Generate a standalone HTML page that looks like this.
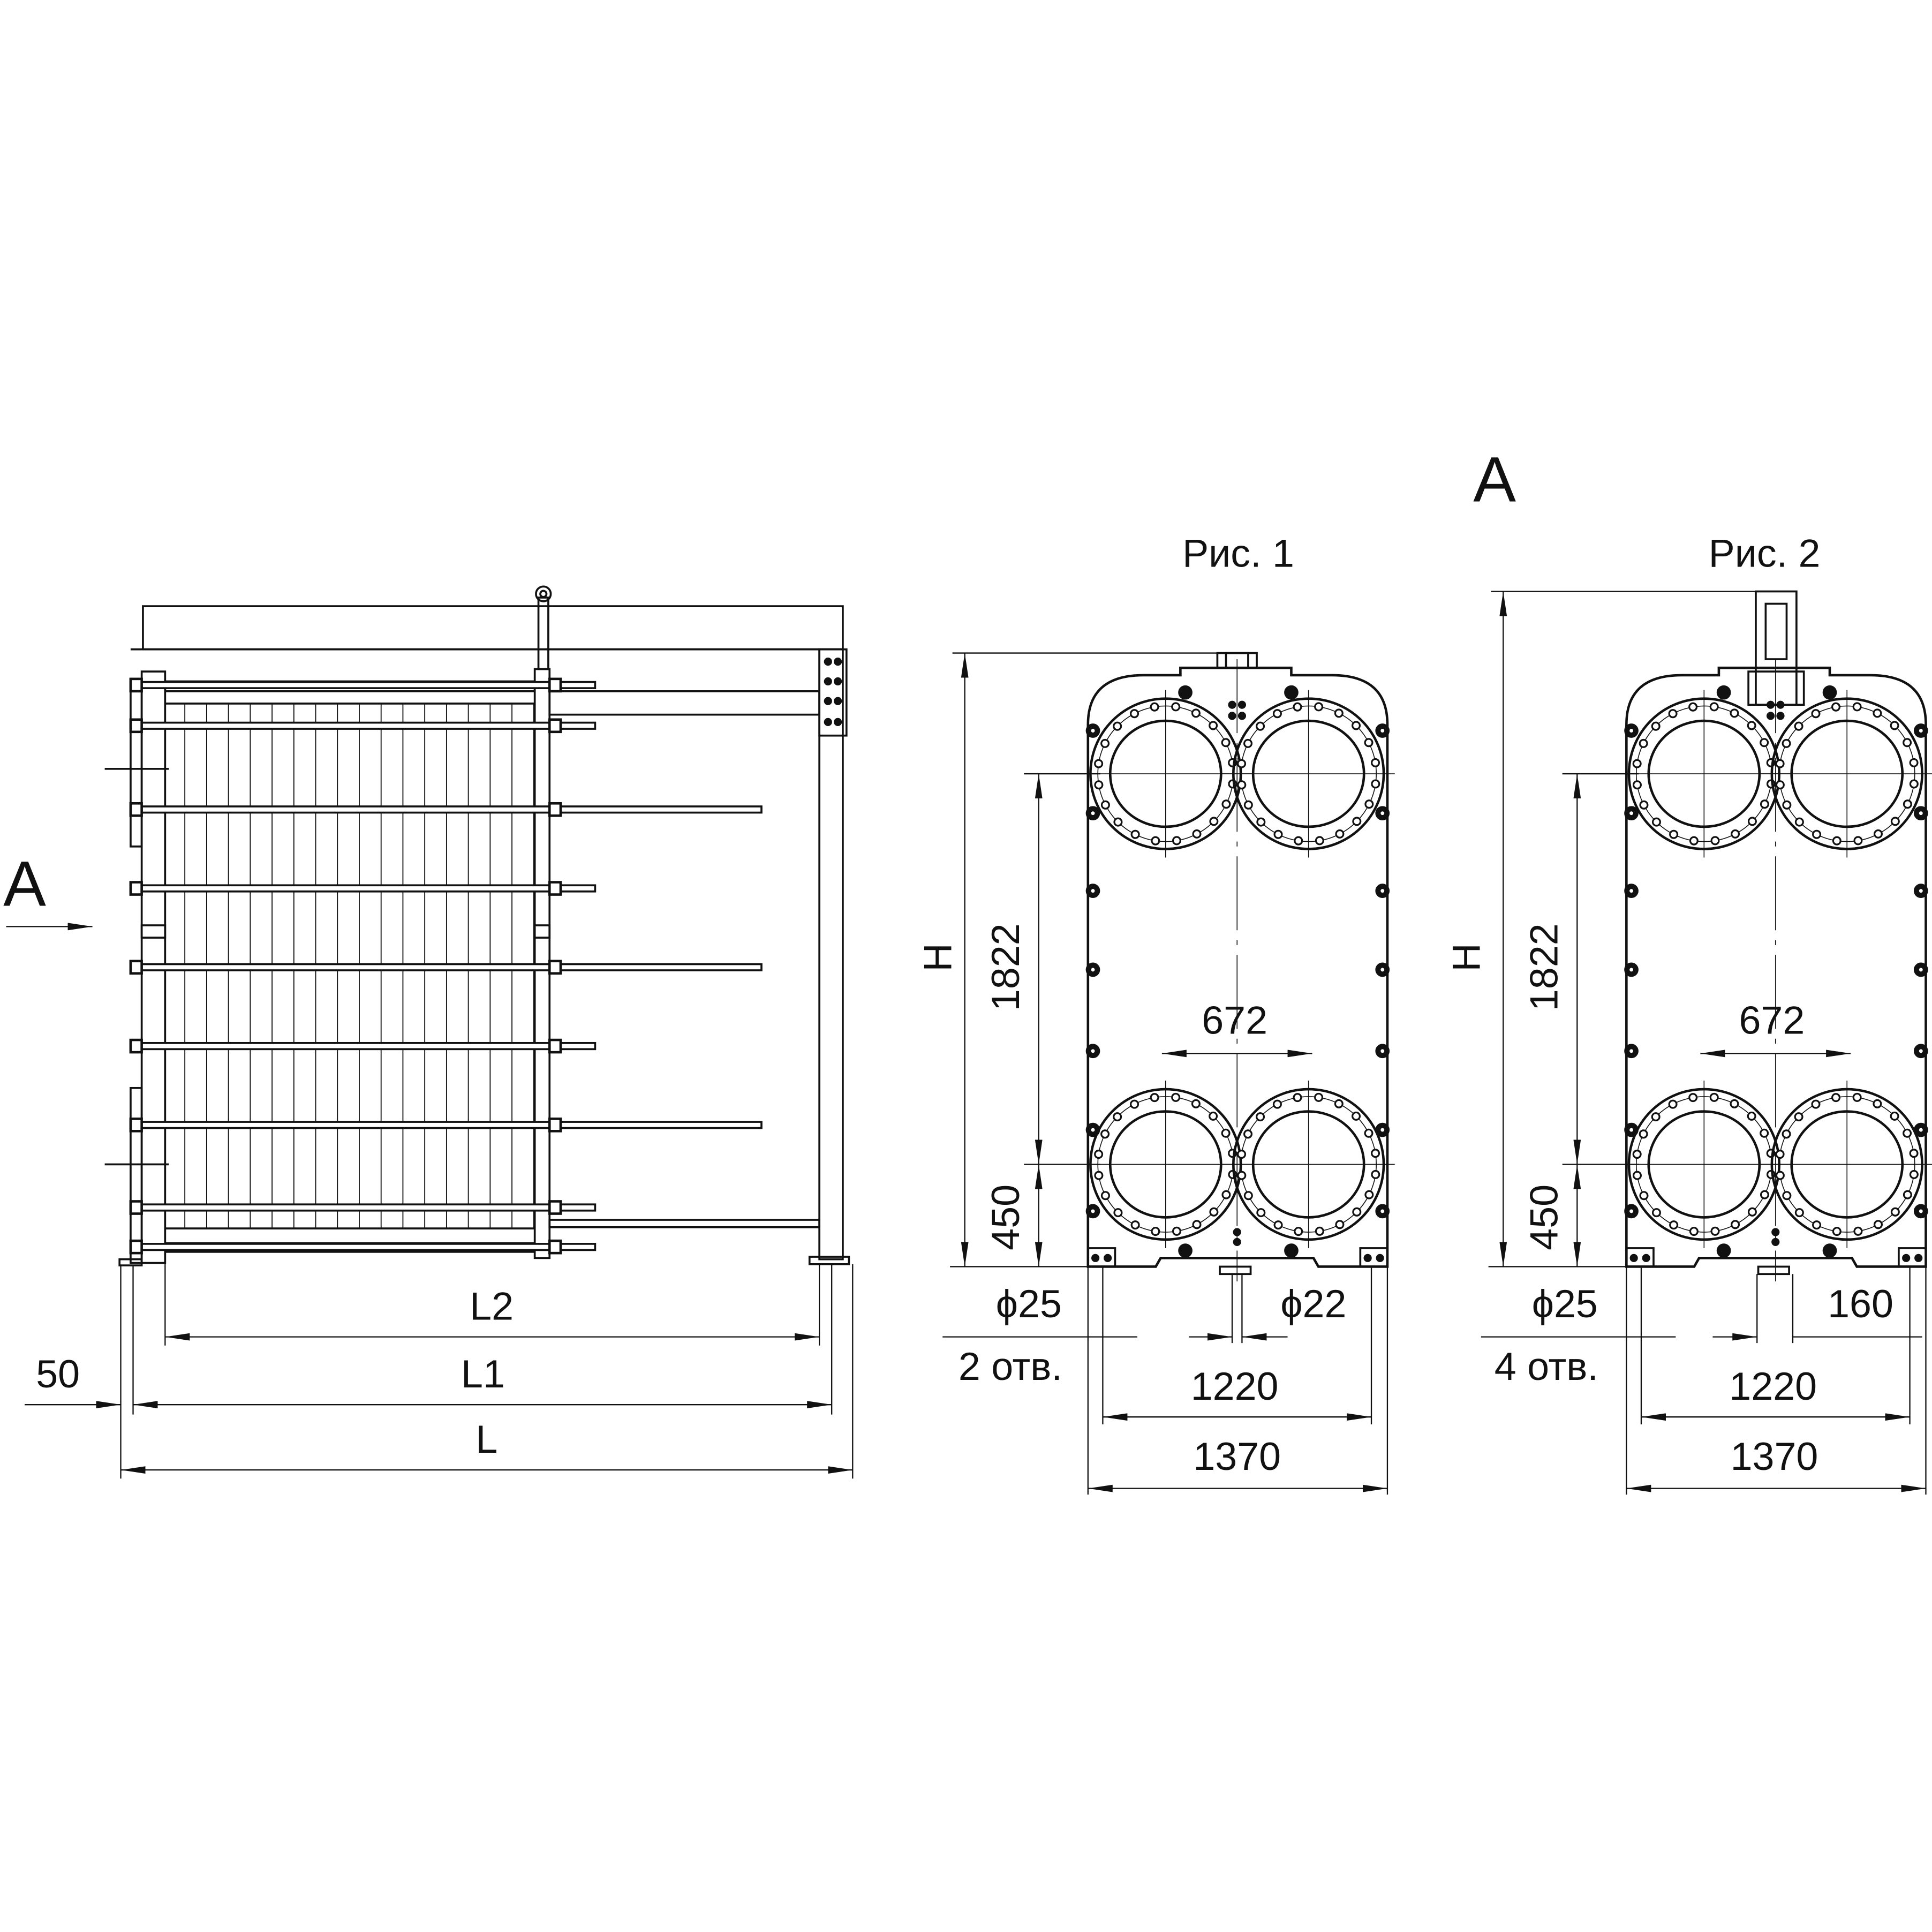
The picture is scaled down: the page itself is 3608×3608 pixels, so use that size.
<!DOCTYPE html>
<html><head><meta charset="utf-8">
<style>
html,body{margin:0;padding:0;background:#fff}
svg{display:block}
text{font-family:"Liberation Sans Narrow","Liberation Sans",sans-serif;fill:#111}
</style></head>
<body>
<svg id="s" width="3608" height="3608" viewBox="0 0 1568 1568" xmlns="http://www.w3.org/2000/svg">
<defs>
<marker id="ar" viewBox="0 0 20 6" refX="20" refY="3" markerWidth="20" markerHeight="6" markerUnits="userSpaceOnUse" orient="auto-start-reverse">
<path d="M0,0 L20,3 L0,6 z" fill="#111"/></marker>
</defs>
<g id="g" fill="none" stroke="#111" stroke-width="1.6">
<!-- LEFT VIEW -->
<rect x="116" y="492" width="568" height="35"/>
<line x1="106" y1="527" x2="684" y2="527"/>
<rect x="665" y="527" width="19" height="495"/>
<rect x="665" y="527" width="22" height="70"/>
<rect x="657" y="1020" width="32" height="6"/>
<rect x="115" y="545" width="19" height="480"/>
<rect x="106" y="553" width="9" height="134"/>
<rect x="106" y="883" width="9" height="142"/>
<rect x="97" y="1022" width="18" height="5"/>
<rect x="434" y="543" width="12" height="478"/>
<rect x="437" y="485" width="8" height="58"/>
<circle cx="441" cy="482" r="6"/>
<circle cx="441" cy="482" r="2.5"/>
<rect x="134" y="553" width="300" height="8"/>
<rect x="134" y="1009" width="300" height="7"/>
<line x1="134" y1="571" x2="434" y2="571"/>
<line x1="134" y1="997" x2="434" y2="997"/>
<rect x="446" y="561" width="219" height="19"/>
<rect x="446" y="990" width="219" height="6"/>
<rect x="115" y="751" width="19" height="10"/>
<rect x="434" y="751" width="12" height="10"/>
<line x1="85" y1="624" x2="137" y2="624"/>
<line x1="85" y1="945" x2="137" y2="945"/>
<!-- dims left -->
<g stroke-width="1">
<line x1="98" y1="1027" x2="98" y2="1200"/>
<line x1="108" y1="1027" x2="108" y2="1148"/>
<line x1="134" y1="1025" x2="134" y2="1092"/>
<line x1="665" y1="1026" x2="665" y2="1092"/>
<line x1="675" y1="1026" x2="675" y2="1148"/>
<line x1="692" y1="1026" x2="692" y2="1200"/>
<line x1="134" y1="1085" x2="665" y2="1085" marker-start="url(#ar)" marker-end="url(#ar)"/>
<line x1="108" y1="1140" x2="675" y2="1140" marker-start="url(#ar)" marker-end="url(#ar)"/>
<line x1="98" y1="1193" x2="692" y2="1193" marker-start="url(#ar)" marker-end="url(#ar)"/>
<line x1="20" y1="1140" x2="98" y2="1140" marker-end="url(#ar)"/>
<line x1="5" y1="752" x2="75" y2="752" marker-end="url(#ar)"/>
</g>
</g>
<g id="v1"></g>
<g id="v2"></g>
<!-- texts -->
<g font-size="32" text-anchor="middle">
<text x="20" y="735" font-size="52">A</text>
<text x="1213" y="407" font-size="52">A</text>
<text x="399" y="1071">L2</text>
<text x="392" y="1126">L1</text>
<text x="47" y="1126">50</text>
<text x="395" y="1179">L</text>
<text x="1005" y="460">Рис. 1</text>
<text x="1432" y="460">Рис. 2</text>
<text x="1002" y="839">672</text>
<text x="1438" y="839">672</text>
<text transform="translate(772,777) rotate(-90)">H</text>
<text transform="translate(1201,777) rotate(-90)">H</text>
<text transform="translate(827,785) rotate(-90)">1822</text>
<text transform="translate(1264,785) rotate(-90)">1822</text>
<text transform="translate(827,988) rotate(-90)">450</text>
<text transform="translate(1264,988) rotate(-90)">450</text>
<text x="835" y="1069">ϕ25</text>
<text x="1066" y="1069">ϕ22</text>
<text x="1270" y="1069">ϕ25</text>
<text x="1510" y="1069">160</text>
<text x="820" y="1120">2 отв.</text>
<text x="1255" y="1120">4 отв.</text>
<text x="1002" y="1136">1220</text>
<text x="1439" y="1136">1220</text>
<text x="1004" y="1193">1370</text>
<text x="1440" y="1193">1370</text>
</g>
</svg>
<script>
var NS="http://www.w3.org/2000/svg";
function el(p,t,a){var e=document.createElementNS(NS,t);for(var k in a)e.setAttribute(k,a[k]);p.appendChild(e);return e;}
var g=document.getElementById("g");
// plates
for(var x=150;x<434;x+=17.7){el(g,"line",{x1:x,y1:571,x2:x,y2:997,"stroke-width":0.8});}
// tie bolts
[[556,483],[589,483],[657,618],[721,483],[785,618],[849,483],[913,618],[980,483],[1012,483]].forEach(function(b){
 el(g,"rect",{x:110,y:b[0]-2.5,width:b[1]-110,height:5,fill:"#fff"});
 el(g,"rect",{x:106,y:b[0]-5,width:9,height:10,fill:"#fff","stroke-width":2});
 el(g,"rect",{x:446,y:b[0]-5,width:9,height:10,fill:"#fff","stroke-width":2});
});
// bolt plate holes
[[672,537],[680,537],[672,553],[680,553],[672,569],[680,569],[672,586],[680,586]].forEach(function(p){el(g,"circle",{cx:p[0],cy:p[1],r:2.5,fill:"#111"});});
function view(id,dx,type){
 var v=document.getElementById(id);
 var G=el(v,"g",{fill:"none",stroke:"#111","stroke-width":1.6});
 var L=883+dx,R=1126+dx,T=548,B=1028;
 el(G,"path",{d:"M"+L+","+B+" L"+L+","+(T+40)+" Q"+L+","+T+" "+(L+45)+","+T+" L"+(958+dx)+","+T+" L"+(958+dx)+","+(T-6)+" L"+(1048+dx)+","+(T-6)+" L"+(1048+dx)+","+T+" L"+(R-45)+","+T+" Q"+R+","+T+" "+R+","+(T+40)+" L"+R+","+B+" L"+(1070+dx)+","+B+" L"+(1066+dx)+","+(B-7)+" L"+(942+dx)+","+(B-7)+" L"+(938+dx)+","+B+" Z","stroke-width":2});
 // top tab
 if(type==1){el(G,"rect",{x:988+dx,y:530,width:32,height:12});el(G,"rect",{x:995+dx,y:530,width:18,height:12});}
 else{el(G,"rect",{x:1425+0,y:480,width:33,height:92});el(G,"rect",{x:1433,y:490,width:17,height:45});el(G,"rect",{x:1419,y:545,width:45,height:27});}
 // bottom tab
 el(G,"rect",{x:990+dx,y:B,width:25,height:6});
 // feet
 [[L,0],[R-22,0]].forEach(function(f){el(G,"rect",{x:f[0],y:B-15,width:22,height:15});el(G,"circle",{cx:f[0]+6,cy:B-7,r:2.5,fill:"#111"});el(G,"circle",{cx:f[0]+16,cy:B-7,r:2.5,fill:"#111"});});
 // ports
 [[946,628],[1062,628],[946,945],[1062,945]].forEach(function(c){
  var cx=c[0]+dx,cy=c[1];
  el(G,"circle",{cx:cx,cy:cy,r:61,"stroke-width":2});
  el(G,"circle",{cx:cx,cy:cy,r:55,"stroke-width":0.7});
  el(G,"ellipse",{cx:cx,cy:cy,rx:45,ry:43,"stroke-width":2});
  for(var i=0;i<20;i++){var a=i*Math.PI/10+0.15;el(G,"circle",{cx:cx+55*Math.cos(a),cy:cy+55*Math.sin(a),r:3,fill:"#fff","stroke-width":1.4});}
  el(G,"line",{x1:cx-70,y1:cy,x2:cx+70,y2:cy,"stroke-width":0.7});
  el(G,"line",{x1:cx,y1:cy-68,x2:cx,y2:cy+68,"stroke-width":0.7});
 });
 // side bolts
 var ys=[593,660,723,787,853,917,983];
 ys.forEach(function(y){[L+4,R-4].forEach(function(x){el(G,"circle",{cx:x,cy:y,r:5,fill:"#111"});el(G,"circle",{cx:x,cy:y,r:1.5,fill:"#fff",stroke:"none"});});});
 [[962,562],[1048,562],[962,1015],[1048,1015]].forEach(function(p){el(G,"circle",{cx:p[0]+dx,cy:p[1],r:5,fill:"#111"});});
 [[1000,572],[1008,572],[1000,581],[1008,581],[1004,1000],[1004,1008]].forEach(function(p){el(G,"circle",{cx:p[0]+dx,cy:p[1],r:2.5,fill:"#111"});});
 // centre line
 el(G,"line",{x1:1004+dx,y1:535,x2:1004+dx,y2:1040,"stroke-width":0.7,"stroke-dasharray":"60,8,4,8"});
 // dims
 var D=el(v,"g",{fill:"none",stroke:"#111","stroke-width":1});
 var hx=783+dx, dx2=843+dx, top=(type==1?530:480);
 el(D,"line",{x1:hx-10,y1:top,x2:(type==1?1010:1440),y2:top});
 el(D,"line",{x1:hx,y1:top,x2:hx,y2:B,"marker-start":"url(#ar)","marker-end":"url(#ar)"});
 el(D,"line",{x1:dx2-12,y1:628,x2:L+10,y2:628});
 el(D,"line",{x1:dx2-12,y1:945,x2:L+10,y2:945});
 el(D,"line",{x1:hx-12,y1:B,x2:L,y2:B});
 el(D,"line",{x1:dx2,y1:628,x2:dx2,y2:945,"marker-start":"url(#ar)","marker-end":"url(#ar)"});
 el(D,"line",{x1:dx2,y1:945,x2:dx2,y2:B,"marker-start":"url(#ar)","marker-end":"url(#ar)"});
 el(D,"line",{x1:943+dx,y1:855,x2:1065+dx,y2:855,"marker-start":"url(#ar)","marker-end":"url(#ar)"});
 [L,L+12,R-13,R].forEach(function(x,i){el(D,"line",{x1:x,y1:B,x2:x,y2:(i==0||i==3)?1213:1156});});
 el(D,"line",{x1:L+12,y1:1150,x2:R-13,y2:1150,"marker-start":"url(#ar)","marker-end":"url(#ar)"});
 el(D,"line",{x1:L,y1:1208,x2:R,y2:1208,"marker-start":"url(#ar)","marker-end":"url(#ar)"});
 el(D,"line",{x1:765+dx,y1:1085,x2:L+12,y2:1085});
 el(D,"line",{x1:L+12,y1:1085,x2:L+40,y2:1085});
 if(type==1){
  el(D,"line",{x1:1000,y1:1034,x2:1000,y2:1090});el(D,"line",{x1:1008,y1:1034,x2:1008,y2:1090});
  el(D,"line",{x1:965,y1:1085,x2:1000,y2:1085,"marker-end":"url(#ar)"});
  el(D,"line",{x1:1045,y1:1085,x2:1008,y2:1085,"marker-end":"url(#ar)"});
 } else {
  el(D,"line",{x1:1426,y1:1034,x2:1426,y2:1090});el(D,"line",{x1:1455,y1:1034,x2:1455,y2:1090});
  el(D,"line",{x1:1390,y1:1085,x2:1426,y2:1085,"marker-end":"url(#ar)"});
  el(D,"line",{x1:1455,y1:1085,x2:1560,y2:1085});
 }
}
view("v1",0,1);
view("v2",437,2);
</script>
</body></html>
